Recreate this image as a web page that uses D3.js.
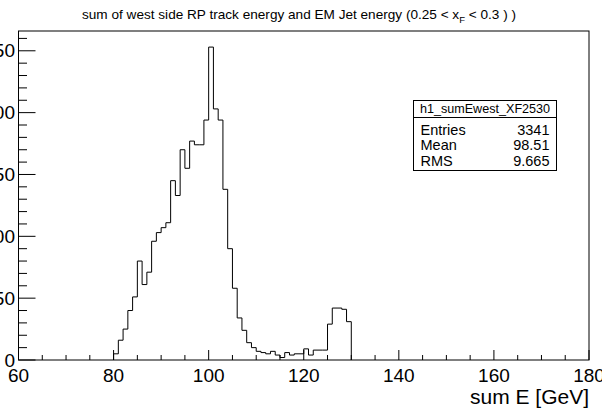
<!DOCTYPE html>
<html>
<head>
<meta charset="utf-8">
<script src="https://cdn.jsdelivr.net/npm/d3@7"></script>
<style>
body { margin: 0; background: #fff; }
text { font-family: "Liberation Sans", Arial, Helvetica, sans-serif; }
</style>
</head>
<body>
<svg></svg>
<script>
// histogram h1_sumEwest_XF2530, 1 GeV bins starting at 80 GeV
var firstBin = 80
var binWidth = 1
var counts = [5, 16, 25, 40, 51, 80, 61, 71, 96, 103,
              107, 111, 145, 133, 170, 155, 177, 174, 174, 194,
              253, 203, 194, 138, 90, 58, 34, 24, 14, 10,
              7, 6, 5, 7, 4, 2, 6, 4, 5, 5,
              9, 4, 8, 8, 8, 29, 42, 42, 41, 31]

var xTicks = [60, 80, 100, 120, 140, 160, 180]
var yTicks = [0, 50, 100, 150, 200, 250]
var xDomain = [60, 180]
var yMax = 266

var statNames = ["Entries", "Mean", "RMS"]
var statValues = ["3341", "98.51", "9.665"]
var histName = "h1_sumEwest_XF2530"

var screen = {width: 602, height: 411}
var margins = {top: 31, bottom: 51, left: 18.5, right: 13}

var width = screen.width - margins.left - margins.right
var height = screen.height - margins.top - margins.bottom

var svg = d3.select("svg")
    .attr("width", screen.width)
    .attr("height", screen.height)

var xScale = d3.scaleLinear()
    .domain(xDomain)
    .range([0, width])

var yScale = d3.scaleLinear()
    .domain([0, yMax])
    .range([height, 0])

var plot = svg.append("g")
    .attr("id", "plot")
    .attr("transform", "translate(" + margins.left + "," + margins.top + ")")

// title with x_F subscript
var title = svg.append("text")
    .attr("x", 299)
    .attr("y", 18.5)
    .attr("text-anchor", "middle")
    .attr("font-size", 13.6)
title.append("tspan").text("sum of west side RP track energy and EM Jet energy (0.25 < x")
title.append("tspan").attr("font-size", 9.5).attr("dy", 4).text("F")
title.append("tspan").attr("dy", -4).text(" < 0.3 ) )")

// minor ticks (ROOT style, inside the frame)
var xMinor = d3.range(xDomain[0], xDomain[1] + 0.1, 5)
var yMinor = d3.range(0, yMax, 10)

plot.selectAll(".xminor")
    .data(xMinor)
    .enter()
    .append("line")
    .attr("x1", function(d) { return xScale(d) })
    .attr("x2", function(d) { return xScale(d) })
    .attr("y1", height)
    .attr("y2", function(d) { return xTicks.indexOf(d) >= 0 ? height - 10 : height - 5 })
    .attr("stroke", "#000")

plot.selectAll(".yminor")
    .data(yMinor)
    .enter()
    .append("line")
    .attr("x1", 0)
    .attr("x2", function(d) { return yTicks.indexOf(d) >= 0 ? 17 : 8.5 })
    .attr("y1", function(d) { return yScale(d) })
    .attr("y2", function(d) { return yScale(d) })
    .attr("stroke", "#000")

// tick labels
plot.selectAll(".xlabel")
    .data(xTicks)
    .enter()
    .append("text")
    .attr("x", function(d) { return xScale(d) })
    .attr("y", height + 22)
    .attr("text-anchor", "middle")
    .attr("font-size", 19)
    .text(function(d) { return d })

plot.selectAll(".ylabel")
    .data(yTicks)
    .enter()
    .append("text")
    .attr("x", -3.5)
    .attr("y", function(d) { return yScale(d) + 6.5 })
    .attr("text-anchor", "end")
    .attr("font-size", 19)
    .text(function(d) { return d })

svg.append("text")
    .attr("x", 589)
    .attr("y", 404)
    .attr("text-anchor", "end")
    .attr("font-size", 21)
    .text("sum E [GeV]")

// histogram outline
var points = [[firstBin, 0]]
counts.forEach(function(c, i)
{
    points.push([firstBin + i * binWidth, c])
})
points.push([firstBin + counts.length * binWidth, 0])

var line = d3.line()
    .x(function(p) { return xScale(p[0]) })
    .y(function(p) { return yScale(p[1]) })
    .curve(d3.curveStepAfter)

plot.append("path")
    .attr("d", line(points))
    .attr("fill", "none")
    .attr("stroke", "#000")
    .attr("stroke-width", 1)

// frame
plot.append("rect")
    .attr("x", 0)
    .attr("y", 0)
    .attr("width", width)
    .attr("height", height)
    .attr("fill", "none")
    .attr("stroke", "#000")

// stats box
var box = svg.append("g")
    .attr("id", "stats")
    .attr("transform", "translate(413.5,100.5)")

box.append("rect")
    .attr("width", 143)
    .attr("height", 70)
    .attr("fill", "#fff")
    .attr("stroke", "#000")

box.append("line")
    .attr("x1", 0)
    .attr("x2", 143)
    .attr("y1", 17)
    .attr("y2", 17)
    .attr("stroke", "#000")

box.append("text")
    .attr("x", 71.5)
    .attr("y", 12.5)
    .attr("text-anchor", "middle")
    .attr("font-size", 12.6)
    .text(histName)

box.selectAll(".sname")
    .data(statNames)
    .enter()
    .append("text")
    .attr("x", 7)
    .attr("y", function(d, i) { return 34 + i * 15.8 })
    .attr("font-size", 14.5)
    .text(function(d) { return d })

box.selectAll(".svalue")
    .data(statValues)
    .enter()
    .append("text")
    .attr("x", 136)
    .attr("y", function(d, i) { return 34 + i * 15.8 })
    .attr("text-anchor", "end")
    .attr("font-size", 14.5)
    .text(function(d) { return d })
</script>
</body>
</html>
